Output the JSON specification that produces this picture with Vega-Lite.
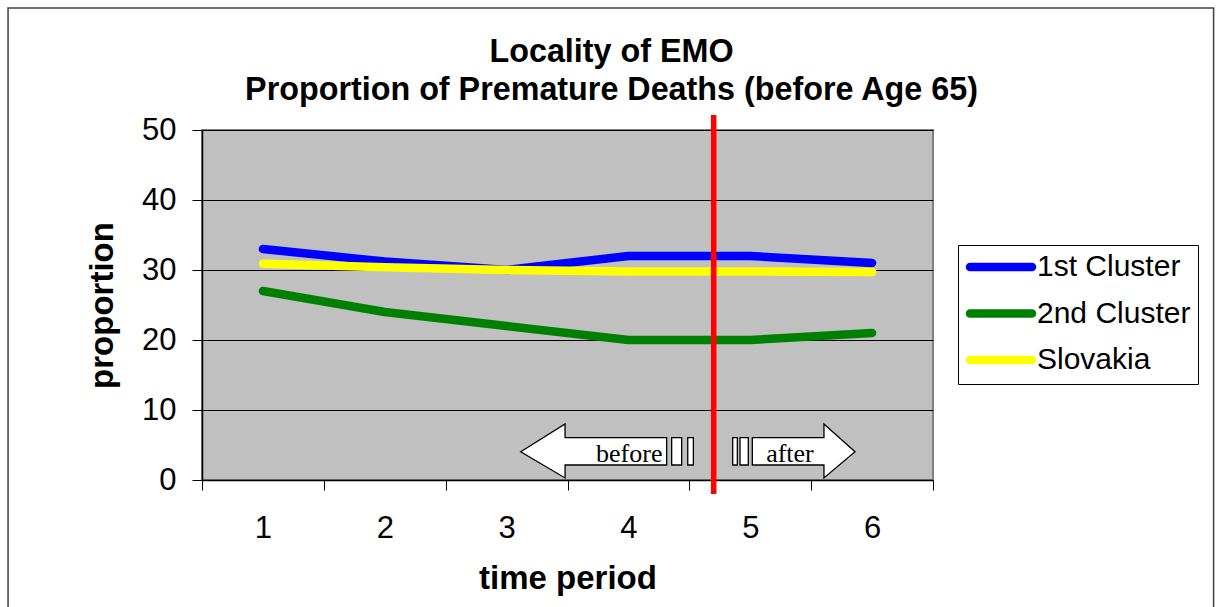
{
  "$schema": "https://vega.github.io/schema/vega-lite/v6.json",
  "width": 731,
  "height": 350,
  "autosize": {"type": "none"},
  "padding": {"left": 202, "top": 130, "right": 283, "bottom": 127},
  "background": "white",
  "config": {
    "font": "Liberation Sans",
    "view": {"fill": "#C0C0C0", "stroke": "#808080", "strokeWidth": 2}
  },
  "title": {
    "text": ["Locality of EMO", "Proportion of Premature Deaths (before Age 65)"],
    "fontSize": 32.3,
    "fontWeight": "bold",
    "font": "Liberation Sans",
    "color": "black",
    "lineHeight": 38,
    "anchor": "middle",
    "frame": "group",
    "dx": 44,
    "offset": -99
  },
  "datasets": {
    "series": [
      {"period": 1, "series": "1st Cluster", "value": 33},
      {"period": 2, "series": "1st Cluster", "value": 31.2},
      {"period": 3, "series": "1st Cluster", "value": 30},
      {"period": 4, "series": "1st Cluster", "value": 32},
      {"period": 5, "series": "1st Cluster", "value": 32},
      {"period": 6, "series": "1st Cluster", "value": 31},
      {"period": 1, "series": "2nd Cluster", "value": 27},
      {"period": 2, "series": "2nd Cluster", "value": 24},
      {"period": 3, "series": "2nd Cluster", "value": 22},
      {"period": 4, "series": "2nd Cluster", "value": 20},
      {"period": 5, "series": "2nd Cluster", "value": 20},
      {"period": 6, "series": "2nd Cluster", "value": 21},
      {"period": 1, "series": "Slovakia", "value": 30.9},
      {"period": 2, "series": "Slovakia", "value": 30.4},
      {"period": 3, "series": "Slovakia", "value": 30},
      {"period": 4, "series": "Slovakia", "value": 29.8},
      {"period": 5, "series": "Slovakia", "value": 29.8},
      {"period": 6, "series": "Slovakia", "value": 29.7}
    ],
    "frame": [{"x1": -1.092, "x2": 8.803, "y1": 67.43, "y2": -20}],
    "divider": [{"xv": 4.7, "y1": 52.14, "y2": -2.0}],
    "arrows": [
      {"arrow": "before", "xv": 3.116, "ya": 4.04, "yb": 4.04},
      {"arrow": "before", "xv": 3.48, "ya": 8.0, "yb": 0.29},
      {"arrow": "before", "xv": 3.48, "ya": 6.04, "yb": 2.14},
      {"arrow": "before", "xv": 4.314, "ya": 6.04, "yb": 2.14},
      {"arrow": "after", "xv": 5.017, "ya": 6.04, "yb": 2.14},
      {"arrow": "after", "xv": 5.605, "ya": 6.04, "yb": 2.14},
      {"arrow": "after", "xv": 5.605, "ya": 8.0, "yb": 0.29},
      {"arrow": "after", "xv": 5.86, "ya": 4.04, "yb": 4.04}
    ],
    "breaks": [
      {"x1": 4.355, "x2": 4.437, "y1": 6.04, "y2": 2.14},
      {"x1": 4.487, "x2": 4.533, "y1": 6.04, "y2": 2.14},
      {"x1": 4.856, "x2": 4.894, "y1": 6.04, "y2": 2.14},
      {"x1": 4.916, "x2": 4.984, "y1": 6.04, "y2": 2.14}
    ],
    "labels": [
      {"xv": 4.007, "yv": 2.64, "text": "before"},
      {"xv": 5.326, "yv": 2.64, "text": "after"}
    ]
  },
  "layer": [
    {
      "data": {"name": "series"},
      "mark": {"type": "line", "strokeWidth": 8.5, "strokeCap": "round", "strokeJoin": "round"},
      "encoding": {
        "x": {
          "field": "period",
          "type": "ordinal",
          "bandPosition": 0.5,
          "scale": {"type": "band", "paddingInner": 0, "paddingOuter": 0},
          "axis": {
            "title": "time period",
            "tickBand": "extent",
            "labelAngle": 0,
            "labelFontSize": 31,
            "labelColor": "black",
            "labelPadding": 23,
            "tickSize": 10,
            "tickColor": "black",
            "domainColor": "black",
            "domainWidth": 1.5,
            "titleFontSize": 33,
            "titleFontWeight": "bold",
            "titleColor": "black",
            "titlePadding": 19,
            "grid": false
          }
        },
        "y": {
          "field": "value",
          "type": "quantitative",
          "title": "proportion",
          "scale": {"domain": [0, 50]},
          "axis": {
            "values": [0, 10, 20, 30, 40, 50],
            "labelFontSize": 31,
            "labelColor": "black",
            "labelPadding": 16,
            "tickSize": 10,
            "tickColor": "black",
            "domainColor": "black",
            "domainWidth": 1.5,
            "grid": true,
            "gridColor": "black",
            "gridWidth": 1,
            "titleFontSize": 33,
            "titleFontWeight": "bold",
            "titleColor": "black",
            "titlePadding": 22
          }
        },
        "color": {
          "field": "series",
          "type": "nominal",
          "scale": {"domain": ["1st Cluster", "2nd Cluster", "Slovakia"], "range": ["#0000FF", "#008000", "#FFFF00"]},
          "legend": {
            "title": null,
            "orient": "none",
            "legendX": 756,
            "legendY": 115,
            "direction": "vertical",
            "strokeColor": "black",
            "fillColor": "white",
            "padding": 7,
            "symbolType": "M -1 0 L 5.2 0",
            "symbolSize": 400,
            "symbolStrokeWidth": 8.5,
            "labelFontSize": 30,
            "labelColor": "black",
            "labelOffset": 42,
            "rowPadding": 12.5,
            "encode": {"symbols": {"update": {"strokeCap": {"value": "round"}}}}
          }
        }
      }
    },
    {
      "layer": [
        {
          "data": {"name": "frame"},
          "mark": {"type": "rect", "fill": "white", "fillOpacity": 0, "stroke": "#404040", "strokeWidth": 1.5},
          "encoding": {
            "x": {"field": "x1", "type": "quantitative", "scale": {"domain": [0.5, 6.5], "nice": false, "zero": false}, "axis": null},
            "x2": {"field": "x2"},
            "y": {"field": "y1", "type": "quantitative", "title": "proportion"},
            "y2": {"field": "y2"}
          }
        },
        {
          "data": {"name": "arrows"},
          "mark": {"type": "area", "fill": "white", "stroke": "black", "strokeWidth": 1.3, "opacity": 1},
          "encoding": {
            "x": {"field": "xv", "type": "quantitative", "scale": {"domain": [0.5, 6.5], "nice": false, "zero": false}, "axis": null},
            "y": {"field": "ya", "type": "quantitative", "title": "proportion"},
            "y2": {"field": "yb"},
            "detail": {"field": "arrow"}
          }
        },
        {
          "data": {"name": "breaks"},
          "mark": {"type": "rect", "fill": "white", "stroke": "black", "strokeWidth": 1.3},
          "encoding": {
            "x": {"field": "x1", "type": "quantitative", "scale": {"domain": [0.5, 6.5], "nice": false, "zero": false}, "axis": null},
            "x2": {"field": "x2"},
            "y": {"field": "y1", "type": "quantitative", "title": "proportion"},
            "y2": {"field": "y2"}
          }
        },
        {
          "data": {"name": "labels"},
          "mark": {"type": "text", "font": "Liberation Serif", "fontSize": 26, "align": "center", "baseline": "alphabetic", "color": "black"},
          "encoding": {
            "x": {"field": "xv", "type": "quantitative", "scale": {"domain": [0.5, 6.5], "nice": false, "zero": false}, "axis": null},
            "y": {"field": "yv", "type": "quantitative", "title": "proportion"},
            "text": {"field": "text"}
          }
        },
        {
          "data": {"name": "divider"},
          "mark": {"type": "rule", "color": "#FF0000", "strokeWidth": 5.5},
          "encoding": {
            "x": {"field": "xv", "type": "quantitative", "scale": {"domain": [0.5, 6.5], "nice": false, "zero": false}, "axis": null},
            "y": {"field": "y1", "type": "quantitative", "title": "proportion"},
            "y2": {"field": "y2"}
          }
        }
      ]
    }
  ],
  "resolve": {"scale": {"x": "independent"}}
}
